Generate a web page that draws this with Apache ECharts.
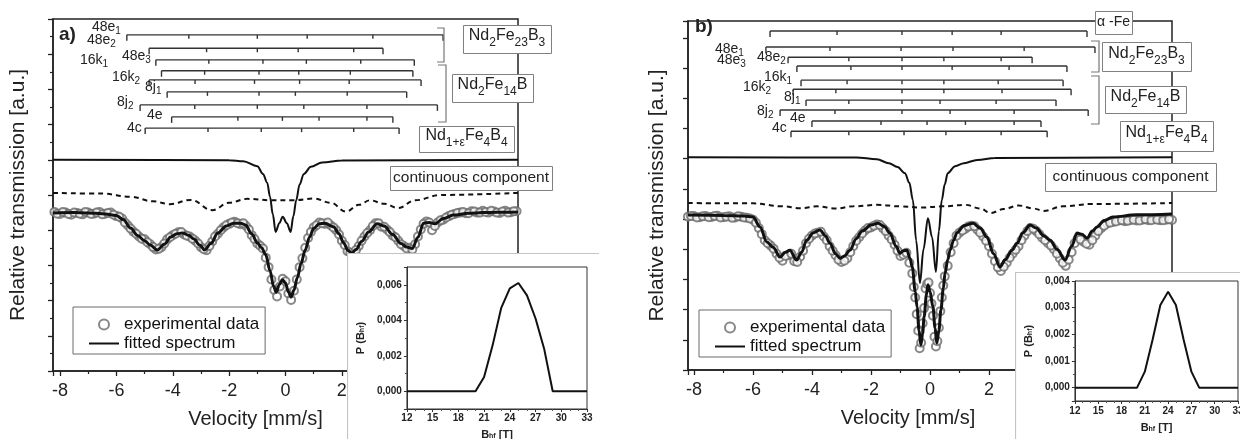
<!DOCTYPE html>
<html>
<head>
<meta charset="UTF-8">
<title>Moessbauer spectra a) and b)</title>
<script src="https://cdn.jsdelivr.net/npm/echarts@6.0.0/dist/echarts.min.js"></script>
<style>
  html, body { margin: 0; padding: 0; background: #fff; width: 1240px; height: 439px; overflow: hidden; }
  .chart { position: absolute; }
</style>
</head>
<body>
<div id="mainA" class="chart" style="left:0;top:0;width:620px;height:439px;"></div>
<div id="mainB" class="chart" style="left:620px;top:0;width:620px;height:439px;"></div>
<div id="insetA" class="chart" style="left:347px;top:253px;width:252px;height:200px;"></div>
<div id="insetB" class="chart" style="left:1015px;top:272px;width:240px;height:190px;"></div>
<script>
var FONT = 'Liberation Sans, Arial, Helvetica, sans-serif';

// ---------- panel a) ----------
var aFit = [[-8.25,4.49],[-7.5,4.5],[-7.0,4.49],[-6.5,4.47],[-6.0,4.42],[-5.75,4.3],[-5.5,4.06],[-5.25,3.85],[-5.0,3.7],[-4.8,3.58],[-4.55,3.44],[-4.3,3.6],[-4.07,3.81],[-3.85,3.9],[-3.65,3.92],[-3.45,3.86],[-3.25,3.75],[-3.05,3.58],[-2.87,3.44],[-2.65,3.62],[-2.4,3.92],[-2.1,4.12],[-1.84,4.2],[-1.6,4.2],[-1.42,4.15],[-1.2,3.9],[-1.0,3.64],[-0.85,3.5],[-0.7,3.3],[-0.55,2.85],[-0.42,2.4],[-0.33,2.24],[-0.22,2.45],[-0.11,2.59],[0.0,2.5],[0.1,2.25],[0.2,2.1],[0.3,2.3],[0.42,2.65],[0.55,3.05],[0.7,3.44],[0.85,3.8],[1.0,4.05],[1.2,4.18],[1.4,4.2],[1.7,4.1],[1.9,3.9],[2.06,3.64],[2.22,3.42],[2.35,3.35],[2.5,3.45],[2.7,3.68],[2.95,3.95],[3.25,4.18],[3.5,4.12],[3.8,3.88],[4.1,3.62],[4.3,3.52],[4.5,3.48],[4.7,3.8],[4.9,4.2],[5.1,4.22],[5.3,4.18],[5.6,4.33],[5.95,4.43],[6.5,4.48],[7.0,4.5],[7.5,4.51],[8.25,4.52]];
var aExp = [[-8.2,4.52],[-8.0,4.46],[-7.8,4.5],[-7.6,4.44],[-7.4,4.49],[-7.2,4.45],[-7.0,4.5],[-6.8,4.47],[-6.6,4.52],[-6.4,4.47],[-6.2,4.5],[-6.0,4.4],[-5.8,4.33],[-5.6,4.14],[-5.4,3.96],[-5.2,3.82],[-5.0,3.74],[-4.8,3.6],[-4.6,3.45],[-4.4,3.52],[-4.2,3.74],[-4.0,3.86],[-3.8,3.94],[-3.6,3.88],[-3.4,3.82],[-3.2,3.7],[-3.0,3.52],[-2.8,3.43],[-2.6,3.68],[-2.4,3.9],[-2.2,4.08],[-2.0,4.18],[-1.8,4.24],[-1.6,4.17],[-1.4,4.12],[-1.2,3.86],[-1.0,3.62],[-0.9,3.56],[-0.8,3.48],[-0.7,3.22],[-0.6,2.95],[-0.5,2.6],[-0.4,2.3],[-0.3,2.12],[-0.2,2.4],[-0.1,2.62],[0.0,2.55],[0.1,2.2],[0.2,2.02],[0.3,2.28],[0.4,2.6],[0.5,2.95],[0.6,3.2],[0.7,3.5],[0.8,3.78],[1.0,4.08],[1.2,4.22],[1.4,4.18],[1.6,4.14],[1.8,4.0],[2.0,3.7],[2.2,3.4],[2.4,3.32],[2.6,3.55],[2.8,3.82],[3.0,4.0],[3.2,4.2],[3.4,4.1],[3.6,4.02],[3.8,3.85],[4.0,3.7],[4.2,3.55],[4.4,3.5],[4.6,3.6],[4.8,4.02],[5.0,4.25],[5.2,4.0],[5.4,4.22],[5.6,4.3],[5.8,4.4],[6.0,4.46],[6.2,4.5],[6.4,4.48],[6.6,4.54],[6.8,4.5],[7.0,4.55],[7.2,4.5],[7.4,4.53],[7.6,4.49],[7.8,4.55],[8.0,4.51],[8.2,4.54]];
var aExpOdd = [[-8.1,4.47],[-7.9,4.52],[-7.7,4.46],[-7.5,4.5],[-7.3,4.47],[-7.1,4.52],[-6.9,4.46],[-6.7,4.5],[-6.5,4.45],[-6.3,4.49],[-6.1,4.44],[-5.9,4.38],[-5.7,4.22],[-5.5,4.05],[-5.3,3.9],[-5.1,3.76],[-4.9,3.66],[-4.7,3.52],[-4.5,3.47],[-4.3,3.62],[-4.1,3.8],[-3.9,3.9],[-3.7,3.95],[-3.5,3.84],[-3.3,3.76],[-3.1,3.62],[-2.9,3.46],[-2.7,3.55],[-2.5,3.82],[-2.3,4.0],[-2.1,4.14],[-1.9,4.22],[-1.7,4.2],[-1.5,4.2],[-1.3,4.02],[-1.1,3.75],[0.9,3.95],[1.1,4.14],[1.3,4.2],[1.5,4.22],[1.7,4.08],[1.9,3.88],[2.1,3.58],[2.3,3.36],[2.5,3.44],[2.7,3.7],[2.9,3.92],[3.1,4.12],[3.3,4.2],[3.5,4.1],[3.7,3.95],[3.9,3.8],[4.1,3.6],[4.3,3.48],[4.5,3.45],[4.7,3.82],[4.9,4.18],[5.1,4.22],[5.3,4.12],[5.5,4.28],[5.7,4.36],[5.9,4.44],[6.1,4.49],[6.3,4.52],[6.5,4.48],[6.7,4.53],[6.9,4.5],[7.1,4.52],[7.3,4.55],[7.5,4.5],[7.7,4.53],[7.9,4.5],[8.1,4.54]];
var aDashed = [[-8.25,5.06],[-6.5,5.04],[-5.5,4.95],[-4.7,4.82],[-4.1,4.74],[-3.36,4.86],[-2.6,4.57],[-2.0,4.78],[-1.35,4.89],[-0.5,4.85],[0.3,4.85],[1.0,4.9],[1.6,4.78],[2.15,4.53],[2.6,4.72],[3.0,4.85],[3.5,4.75],[4.0,4.63],[4.6,4.85],[5.5,5.0],[8.25,5.06]];
var aContinuous = [[-8.25,6.0],[-2.0,5.99],[-1.5,5.96],[-1.0,5.82],[-0.8,5.6],[-0.65,5.35],[-0.55,4.95],[-0.45,4.45],[-0.35,3.95],[-0.22,4.2],[-0.1,4.38],[0.05,4.2],[0.18,3.95],[0.28,4.4],[0.38,4.85],[0.5,5.3],[0.65,5.6],[0.9,5.8],[1.3,5.92],[2.0,5.98],[8.25,6.0]];
var aSites = ['48e_1', '48e_2', '48e_3', '16k_1', '16k_2', '8j_1', '8j_2', '4e', '4c'];
// row level, then six line positions (mm/s)
var aSticks = [
  [9.55, -5.63, -3.43, -1.0, 0.77, 3.1, 5.59],
  [9.17, -4.84, -2.8, -1.0, 0.45, 2.42, 3.46],
  [8.84, -4.6, -2.72, -0.8, 0.74, 2.67, 4.57],
  [8.53, -4.4, -2.87, -0.94, 0.47, 2.3, 4.52],
  [8.27, -4.84, -3.21, -1.1, 0.5, 2.26, 4.81],
  [7.93, -4.2, -2.77, -0.94, 0.35, 2.19, 4.3],
  [7.56, -5.16, -3.22, -1.0, 0.65, 2.89, 5.39],
  [7.22, -4.04, -1.69, -0.11, 1.19, 2.89, 3.81],
  [6.9, -4.98, -2.75, -0.86, 0.57, 2.42, 4.03]
];
var bhfValues = [12,13,14,15,16,17,18,19,20,21,22,23,24,25,26,27,28,29,30,31,32,33];
var aProb = [0,0,0,0,0,0,0,0,0,0.0008,0.0026,0.0047,0.0058,0.0061,0.0054,0.0041,0.0024,0,0,0,0,0];

// ---------- panel b) ----------
var bFit = [[-8.2,5.13],[-7.0,5.12],[-6.3,5.1],[-6.0,5.07],[-5.76,4.74],[-5.53,4.24],[-5.32,4.07],[-5.08,3.74],[-4.9,3.9],[-4.75,3.97],[-4.52,3.64],[-4.35,3.9],[-4.18,4.3],[-3.95,4.55],[-3.73,4.64],[-3.55,4.45],[-3.39,4.2],[-3.2,3.85],[-3.05,3.7],[-2.9,3.78],[-2.71,3.97],[-2.5,4.35],[-2.3,4.6],[-2.0,4.8],[-1.76,4.86],[-1.55,4.75],[-1.36,4.54],[-1.15,4.1],[-1.02,3.87],[-0.9,3.95],[-0.78,3.97],[-0.68,3.7],[-0.6,3.41],[-0.5,2.6],[-0.44,2.09],[-0.37,1.3],[-0.31,0.83],[-0.25,1.2],[-0.2,1.76],[-0.12,2.5],[-0.07,2.82],[0.0,2.6],[0.1,2.09],[0.17,1.4],[0.23,0.89],[0.3,1.3],[0.37,1.99],[0.45,2.7],[0.51,3.21],[0.6,3.65],[0.68,3.97],[0.8,4.3],[0.91,4.54],[1.15,4.78],[1.46,4.86],[1.7,4.7],[1.93,4.4],[2.15,3.85],[2.37,3.41],[2.55,3.65],[2.78,3.97],[2.95,4.2],[3.15,4.55],[3.39,4.8],[3.6,4.7],[3.85,4.45],[4.07,4.3],[4.3,4.0],[4.58,3.64],[4.8,4.1],[4.98,4.54],[5.15,4.5],[5.32,4.37],[5.5,4.6],[5.66,4.74],[5.9,4.95],[6.2,5.07],[7.0,5.14],[8.2,5.17]];
var bExp = [[-8.2,5.08],[-8.0,5.1],[-7.8,5.06],[-7.6,5.1],[-7.4,5.07],[-7.2,5.11],[-7.0,5.06],[-6.8,5.09],[-6.6,5.05],[-6.4,5.08],[-6.2,5.04],[-6.0,4.98],[-5.8,4.7],[-5.6,4.3],[-5.4,4.12],[-5.2,3.85],[-5.0,3.62],[-4.8,3.8],[-4.6,3.6],[-4.4,3.75],[-4.2,4.2],[-4.0,4.45],[-3.8,4.55],[-3.6,4.42],[-3.4,4.1],[-3.2,3.8],[-3.0,3.58],[-2.8,3.7],[-2.6,4.1],[-2.4,4.4],[-2.2,4.62],[-2.0,4.72],[-1.8,4.82],[-1.6,4.7],[-1.4,4.45],[-1.2,4.15],[-1.0,3.78],[-0.9,3.82],[-0.8,3.88],[-0.7,3.55],[-0.6,3.2],[-0.55,2.75],[-0.5,2.4],[-0.45,1.85],[-0.4,1.3],[-0.35,0.72],[-0.3,0.9],[-0.25,1.55],[-0.2,2.05],[-0.15,2.7],[-0.1,2.85],[-0.05,2.9],[0.0,2.55],[0.05,2.2],[0.1,1.8],[0.15,1.1],[0.2,0.78],[0.25,0.95],[0.3,1.4],[0.35,1.95],[0.4,2.4],[0.45,2.8],[0.5,3.1],[0.6,3.45],[0.7,3.9],[0.8,4.2],[1.0,4.55],[1.2,4.68],[1.4,4.78],[1.6,4.65],[1.8,4.42],[2.0,4.1],[2.2,3.6],[2.4,3.28],[2.6,3.55],[2.8,3.85],[3.0,4.1],[3.2,4.45],[3.4,4.7],[3.6,4.6],[3.8,4.38],[4.0,4.2],[4.2,4.0],[4.4,3.7],[4.6,3.45],[4.8,3.9],[5.0,4.35],[5.2,4.25],[5.4,4.15],[5.6,4.45],[5.8,4.7],[6.0,4.85],[6.2,4.9],[6.4,4.95],[6.6,4.93],[6.8,4.97],[7.0,4.95],[7.2,4.98],[7.4,4.96],[7.6,4.99],[7.8,4.96],[8.0,4.98],[8.2,4.97]];
var bExpOdd = [[-8.1,5.1],[-7.9,5.05],[-7.7,5.09],[-7.5,5.06],[-7.3,5.1],[-7.1,5.05],[-6.9,5.08],[-6.7,5.04],[-6.5,5.09],[-6.3,5.05],[-6.1,5.02],[-5.9,4.88],[-5.7,4.5],[-5.5,4.2],[-5.3,4.02],[-5.1,3.72],[-4.9,3.78],[-4.7,3.85],[-4.5,3.58],[-4.3,3.95],[-4.1,4.35],[-3.9,4.52],[-3.7,4.58],[-3.5,4.3],[-3.3,3.95],[-3.1,3.65],[-2.9,3.62],[-2.7,3.9],[-2.5,4.28],[-2.3,4.52],[-2.1,4.7],[-1.9,4.78],[-1.7,4.8],[-1.5,4.6],[-1.3,4.32],[-1.1,3.95],[0.9,4.45],[1.1,4.62],[1.3,4.75],[1.5,4.76],[1.7,4.55],[1.9,4.28],[2.1,3.85],[2.3,3.4],[2.5,3.42],[2.7,3.72],[2.9,3.98],[3.1,4.3],[3.3,4.6],[3.5,4.68],[3.7,4.5],[3.9,4.3],[4.1,4.12],[4.3,3.85],[4.5,3.55],[4.7,3.65],[4.9,4.2],[5.1,4.32],[5.3,4.18],[5.5,4.3],[5.7,4.6],[5.9,4.78],[6.1,4.88],[6.3,4.92],[6.5,4.96],[6.7,4.94],[6.9,4.98],[7.1,4.95],[7.3,4.99],[7.5,4.96],[7.7,4.98],[7.9,4.96],[8.1,4.99]];
var bDashed = [[-8.2,5.53],[-6.0,5.52],[-5.0,5.42],[-4.4,5.36],[-3.8,5.42],[-3.2,5.35],[-2.6,5.42],[-1.8,5.47],[-1.0,5.42],[-0.3,5.38],[0.4,5.42],[1.2,5.47],[1.7,5.35],[2.05,5.2],[2.5,5.33],[3.0,5.45],[3.5,5.35],[3.85,5.27],[4.5,5.42],[5.5,5.5],[8.2,5.53]];
var bContinuous = [[-8.2,7.05],[-2.5,7.04],[-1.8,6.98],[-1.39,6.85],[-1.1,6.72],[-0.85,6.52],[-0.7,6.2],[-0.58,5.63],[-0.47,4.3],[-0.34,2.88],[-0.22,4.0],[-0.07,5.03],[0.07,4.4],[0.2,3.25],[0.3,4.6],[0.4,5.63],[0.5,6.15],[0.6,6.52],[0.85,6.75],[1.15,6.85],[1.6,6.96],[2.2,7.02],[8.2,7.05]];
var bSites = ['48e_1', '48e_3', '48e_2', '16k_1', '16k_2', '8j_1', '8j_2', '4e', '4c'];
// alpha-Fe first, then the same sites as in a)
var bSticks = [
  [11.23, -5.42, -3.15, -0.95, 0.75, 2.41, 5.32],
  [10.7, -5.56, -3.39, -0.98, 0.78, 3.19, 5.59],
  [10.36, -4.81, -2.75, -0.95, 0.47, 2.41, 3.46],
  [10.07, -4.51, -2.68, -0.95, 0.75, 2.68, 4.64],
  [9.6, -4.37, -2.81, -0.95, 0.47, 2.31, 4.51],
  [9.3, -4.64, -3.19, -0.95, 0.47, 2.44, 4.78],
  [8.94, -4.2, -2.75, -0.95, 0.34, 2.24, 4.27],
  [8.61, -5.08, -3.22, -0.95, 0.68, 2.85, 5.36],
  [8.25, -4.0, -1.66, -0.1, 1.2, 2.85, 3.76],
  [7.91, -4.71, -2.75, -0.88, 0.54, 2.41, 3.97]
];
var bProb = [0,0,0,0,0,0,0,0,0,0.0006,0.0018,0.0031,0.0036,0.0031,0.0018,0.0006,0,0,0,0,0,0];

var phaseText = {
  fe23: '{n|Nd}{s|2}{n|Fe}{s|23}{n|B}{s|3}',
  fe14: '{n|Nd}{s|2}{n|Fe}{s|14}{n|B}',
  fe4: '{n|Nd}{s|1+ε}{n|Fe}{s|4}{n|B}{s|4}'
};

var richPhase = {
  n: { fontSize: 16, lineHeight: 26, fontFamily: FONT, fill: '#222' },
  s: { fontSize: 12, lineHeight: 12, verticalAlign: 'bottom', fontFamily: FONT, fill: '#222' }
};
var richSite = {
  n: { fontSize: 14, lineHeight: 18, fontFamily: FONT, fill: '#222' },
  s: { fontSize: 10, lineHeight: 10, verticalAlign: 'bottom', fontFamily: FONT, fill: '#222' }
};

function subText(label) {
  var parts = label.split('_');
  return '{n|' + parts[0] + '}' + (parts[1] ? '{s|' + parts[1] + '}' : '');
}

function labelBox(x, y, w, h, text, rich, fontSize) {
  return [
    { type: 'rect', z: 100, shape: { x: x + 0.5, y: y + 0.5, width: w, height: h },
      style: { fill: '#fff', stroke: '#808080', lineWidth: 1 } },
    { type: 'text', z: 101, x: x + w / 2, y: y + h / 2 - (rich ? 3 : 0),
      style: { text: text, rich: rich, align: 'center', verticalAlign: 'middle',
               fontSize: fontSize || 16, fontFamily: FONT, fill: '#222' } }
  ];
}

function siteLabel(name, x, top) {
  return { type: 'text', z: 100, x: x, y: top,
           style: { text: subText(name), rich: richSite, align: 'left', verticalAlign: 'top', fill: '#222' } };
}

function bracket(x, y1, y2, stub) {
  return { type: 'polyline', z: 100,
           shape: { points: [[x - stub, y1], [x, y1], [x, y2], [x - stub, y2]] },
           style: { stroke: '#777', lineWidth: 1.2, fill: null } };
}

function renderSticks(params, api) {
  var y = api.value(0);
  var pts = [];
  for (var i = 1; i <= 6; i++) pts.push(api.coord([api.value(i), y]));
  var style = { stroke: '#333', lineWidth: 1.4 };
  var children = [{ type: 'line', shape: { x1: pts[0][0], y1: pts[0][1], x2: pts[5][0], y2: pts[5][1] }, style: style }];
  pts.forEach(function (p, k) {
    var len = (k === 0 || k === 5) ? 6 : 4;
    children.push({ type: 'line', shape: { x1: p[0], y1: p[1], x2: p[0], y2: p[1] + len }, style: style });
  });
  return { type: 'group', children: children };
}

function mainOption(p) {
  return {
    animation: false,
    textStyle: { fontFamily: FONT },
    grid: { left: p.grid[0], top: p.grid[1], width: p.grid[2], height: p.grid[3],
            show: true, borderColor: '#222', borderWidth: 1.5, backgroundColor: 'transparent' },
    xAxis: {
      type: 'value', min: -p.xMax, max: p.xMax, splitNumber: 8,
      axisLine: { onZero: false, lineStyle: { color: '#222', width: 1.5 } },
      axisTick: { length: 5, lineStyle: { color: '#222', width: 1.3 } },
      minorTick: { show: true, splitNumber: 2, length: 3, lineStyle: { color: '#222', width: 1.2 } },
      splitLine: { show: false },
      axisLabel: { fontSize: 18, color: '#222', margin: 11, showMinLabel: false, showMaxLabel: false },
      name: 'Velocity [mm/s]', nameLocation: 'middle', nameGap: 38,
      nameTextStyle: { fontSize: 20, color: '#222', padding: p.namePad }
    },
    yAxis: {
      type: 'value', min: 0, max: p.yMax, interval: 1,
      axisLine: { onZero: false, lineStyle: { color: '#222', width: 1.5 } },
      axisTick: { length: 5, lineStyle: { color: '#222', width: 1.3 } },
      minorTick: { show: p.yMinor, splitNumber: 2, length: 3, lineStyle: { color: '#222', width: 1.2 } },
      splitLine: { show: false },
      axisLabel: { show: false },
      name: 'Relative transmission [a.u.]', nameLocation: 'middle', nameGap: p.yNameGap,
      nameTextStyle: { fontSize: 21, color: '#222' }
    },
    legend: {
      data: [
        { name: 'experimental data' },
        { name: 'fitted spectrum', itemStyle: { opacity: 0 } }
      ],
      orient: 'vertical', left: p.legend[0], top: p.legend[1],
      itemWidth: 30, itemHeight: 10, itemGap: 2,
      textStyle: { fontSize: 17, color: '#111', fontFamily: FONT },
      borderColor: '#6a6a6a', borderWidth: 1, backgroundColor: '#fff',
      padding: [9, 6, 2, 15], selectedMode: false
    },
    series: [
      { name: 'experimental data', type: 'scatter', symbol: 'emptyCircle', symbolSize: 8,
        itemStyle: { color: '#6a6a6a', borderWidth: 1.3 }, data: p.exp, z: 2 },
      { name: 'fitted spectrum', type: 'line', symbol: 'none', smooth: 0.35, smoothMonotone: 'x',
        itemStyle: { color: '#111' }, lineStyle: { color: '#111', width: 3 }, data: p.fit, z: 4 },
      { name: 'distribution', type: 'line', symbol: 'none', smooth: 0.4, smoothMonotone: 'x',
        lineStyle: { color: '#111', width: 2, type: [5, 4] }, data: p.dashed, z: 3 },
      { name: 'continuous component', type: 'line', symbol: 'none', smooth: 0.35, smoothMonotone: 'x',
        lineStyle: { color: '#111', width: 2 }, data: p.continuous, z: 3 },
      { name: 'sites', type: 'custom', renderItem: renderSticks,
        dimensions: ['y', 'l1', 'l2', 'l3', 'l4', 'l5', 'l6'],
        encode: { x: [1, 2, 3, 4, 5, 6], y: 0 }, data: p.sticks, z: 3 }
    ],
    graphic: { elements: p.graphic }
  };
}

function insetOption(p) {
  var richName = {
    b: { fontSize: 11, fontWeight: 'bold', color: '#222' },
    s: { fontSize: 7, fontWeight: 'bold', color: '#222', verticalAlign: 'bottom', lineHeight: 8 }
  };
  return {
    animation: false,
    textStyle: { fontFamily: FONT },
    grid: { left: p.grid[0], top: p.grid[1], width: p.grid[2], height: p.grid[3],
            show: true, borderColor: '#333', borderWidth: 1 },
    xAxis: {
      type: 'value', min: 12, max: 33, interval: 3,
      axisLine: { onZero: false, lineStyle: { color: '#333', width: 1 } },
      axisTick: { length: 3, lineStyle: { color: '#333' } },
      minorTick: { show: true, splitNumber: 3, length: 2, lineStyle: { color: '#555' } },
      splitLine: { show: false },
      axisLabel: { fontSize: 10, fontWeight: 'bold', color: '#222', margin: p.xMargin },
      name: '{b|B}{s|hf}{b| [T]}', nameLocation: 'middle', nameGap: p.xNameGap,
      nameTextStyle: { rich: richName }
    },
    yAxis: {
      type: 'value', min: p.yMin, max: p.yMax, splitNumber: 4,
      axisLine: { onZero: false, lineStyle: { color: '#333', width: 1 } },
      axisTick: { length: 3, lineStyle: { color: '#333' } },
      minorTick: { show: true, splitNumber: 2, length: 2, lineStyle: { color: '#555' } },
      splitLine: { show: false },
      axisLabel: { fontSize: 10, fontWeight: 'bold', color: '#222', margin: 5,
                   showMinLabel: false, showMaxLabel: p.showMax,
                   formatter: function (v) { return v.toFixed(3).replace('.', ','); } },
      name: '{b|P (B}{s|hf}{b|)}', nameLocation: 'middle', nameGap: p.yNameGap,
      nameTextStyle: { rich: richName }
    },
    series: [{
      type: 'line', symbol: 'none', lineStyle: { color: '#111', width: 2 },
      data: bhfValues.map(function (b, i) { return [b, p.prob[i]]; })
    }],
    graphic: { elements: [
      { type: 'rect', z: -1, shape: { x: 0.5, y: 0.5, width: 400, height: 400 },
        style: { fill: '#fff', stroke: '#c4c4c4', lineWidth: 1.2 } }
    ] }
  };
}

// ---------- panel a ----------
var aGraphic = [
  { type: 'text', z: 100, x: 59, y: 35,
    style: { text: 'a)', fontSize: 19, fontWeight: 'bold', fontFamily: FONT, fill: '#222', verticalAlign: 'middle' } },
  bracket(444, 28, 62, 7),
  bracket(446, 65, 122, 8)
];
var aLabelPos = [[92, 18], [87, 31], [122, 47], [80, 51], [112, 68], [145, 78], [117, 93], [147, 106], [127, 119]];
aSites.forEach(function (s, i) { aGraphic.push(siteLabel(s, aLabelPos[i][0], aLabelPos[i][1])); });
aGraphic = aGraphic
  .concat(labelBox(463, 25, 88, 28, phaseText.fe23, richPhase))
  .concat(labelBox(452, 74, 81, 28, phaseText.fe14, richPhase))
  .concat(labelBox(419, 126, 95, 26, phaseText.fe4, richPhase))
  .concat(labelBox(390, 166, 162, 24, 'continuous component', null, 15.5));

var chartA = echarts.init(document.getElementById('mainA'));
chartA.setOption(mainOption({
  grid: [52, 19, 466, 352], xMax: 8.25, yMax: 10, yMinor: true, yNameGap: 24,
  namePad: [0, 60, 0, 0], legend: [73, 307],
  fit: aFit, exp: aExp.concat(aExpOdd), dashed: aDashed, continuous: aContinuous, sticks: aSticks,
  graphic: aGraphic
}));

// ---------- panel b ----------
var bGraphic = [
  { type: 'text', z: 100, x: 75, y: 27,
    style: { text: 'b)', fontSize: 19, fontWeight: 'bold', fontFamily: FONT, fill: '#222', verticalAlign: 'middle' } },
  bracket(479, 41, 72, 8),
  bracket(479, 76, 124, 8)
];
var bLabelPos = [[95, 40], [97, 51], [137, 48], [144, 68], [123, 78], [164, 88], [137, 102], [170, 109], [152, 119]];
bSites.forEach(function (s, i) { bGraphic.push(siteLabel(s, bLabelPos[i][0], bLabelPos[i][1])); });
bGraphic = bGraphic
  .concat(labelBox(475, 11, 37, 23, 'α -Fe', null, 14))
  .concat(labelBox(482, 42, 89, 29, phaseText.fe23, richPhase))
  .concat(labelBox(485, 86, 81, 27, phaseText.fe14, richPhase))
  .concat(labelBox(500, 121, 93, 30, phaseText.fe4, richPhase))
  .concat(labelBox(425, 163, 171, 28, 'continuous component', null, 15.5));

var chartB = echarts.init(document.getElementById('mainB'));
chartB.setOption(mainOption({
  grid: [68, 21, 484, 349], xMax: 8.2, yMax: 11.56, yMinor: false, yNameGap: 20,
  namePad: [0, 44, 0, 0], legend: [79, 310],
  fit: bFit, exp: bExp.concat(bExpOdd), dashed: bDashed, continuous: bContinuous, sticks: bSticks,
  graphic: bGraphic
}));

// ---------- insets ----------
var insetA = echarts.init(document.getElementById('insetA'));
insetA.setOption(insetOption({
  grid: [50, 14, 190, 142], yMin: -0.001, yMax: 0.007, showMax: false,
  xMargin: 4, xNameGap: 20, yNameGap: 37, prob: aProb
}));

var insetB = echarts.init(document.getElementById('insetB'));
insetB.setOption(insetOption({
  grid: [55, 9, 168, 120], yMin: -0.0005, yMax: 0.004, showMax: true,
  xMargin: 5, xNameGap: 21, yNameGap: 37, prob: bProb
}));
</script>
</body>
</html>
